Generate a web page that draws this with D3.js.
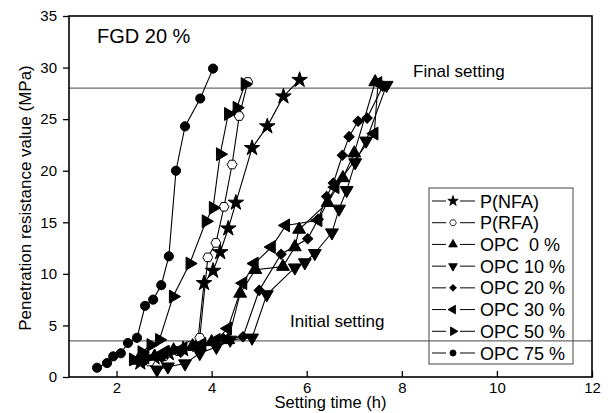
<!doctype html>
<html>
<head>
<meta charset="utf-8">
<script src="https://d3js.org/d3.v7.min.js"></script>
<style>
  body { margin: 0; background: #fff; }
  text { font-family: "Liberation Sans", Arial, sans-serif; fill: #000; }
</style>
</head>
<body>
<script>

// series names in legend order
var names = ["P(NFA)", "P(RFA)", "OPC\u00a0\u00a00 %", "OPC 10 %", "OPC 20 %", "OPC 30 %", "OPC 50 %", "OPC 75 %"];

// [time (h), resistance (MPa)]
var pNFA = [[2.5,1.4],[2.8,1.9],[3.1,2.3],[3.4,2.7],[3.7,3.1],[3.84,9.1],[4.03,10.3],[4.18,12.1],[4.35,14.4],[4.51,16.9],[4.85,22.2],[5.17,24.3],[5.51,27.2],[5.85,28.8]];
var pRFA = [[2.7,1.5],[3.0,2.0],[3.3,2.5],[3.55,3.0],[3.75,3.8],[3.92,11.6],[4.09,13.0],[4.26,16.5],[4.43,20.6],[4.58,25.3],[4.76,28.6]];
var opc0 = [[2.45,1.6],[2.8,2.0],[3.2,2.6],[3.6,3.0],[4.0,3.4],[4.35,3.6],[4.6,8.1],[4.92,10.4],[5.5,10.7],[5.75,12.6],[5.84,14.3],[6.44,16.9],[6.76,19.3],[7.0,21.7],[7.44,28.6]];
var opc10 = [[2.85,0.7],[3.08,1.0],[3.44,1.3],[3.75,2.3],[4.1,2.9],[4.39,3.6],[4.85,3.8],[5.16,8.0],[5.75,10.6],[5.96,11.1],[6.17,12.0],[6.53,14.0],[6.68,16.3],[6.84,18.1],[7.02,20.8],[7.25,22.9],[7.68,28.3]];
var opc20 = [[2.55,1.4],[2.95,1.9],[3.35,2.4],[3.75,2.9],[4.25,3.7],[4.66,3.9],[5.0,8.4],[5.46,11.9],[6.02,13.4],[6.24,15.3],[6.42,17.5],[6.56,18.8],[6.75,21.5],[6.89,23.3],[7.08,24.8],[7.27,25.1],[7.6,28.2]];
var opc30 = [[2.6,1.9],[3.0,2.4],[3.4,2.8],[3.8,3.2],[4.1,3.6],[4.34,4.7],[4.66,9.1],[4.9,11.0],[5.26,12.6],[5.56,14.7],[6.24,15.2],[6.6,18.4],[7.42,23.6],[7.5,28.5]];
var opc50 = [[2.35,1.7],[2.53,2.4],[2.72,3.1],[2.9,3.6],[3.19,7.8],[3.54,11.0],[3.88,15.1],[4.03,16.4],[4.18,21.6],[4.35,25.5],[4.53,26.1],[4.7,28.4]];
var opc75 = [[1.59,0.9],[1.8,1.35],[1.93,2.0],[2.09,2.3],[2.24,3.3],[2.43,3.8],[2.6,6.9],[2.77,7.5],[2.94,8.9],[3.1,11.7],[3.25,20.0],[3.44,24.3],[3.76,27.0],[4.03,29.9]];

var series = [pNFA, pRFA, opc0, opc10, opc20, opc30, opc50, opc75];

var xTicks = [2, 4, 6, 8, 10, 12];
var yTicks = [0, 5, 10, 15, 20, 25, 30, 35];
var finalSetting = 28;
var initialSetting = 3.5;

var width = 610, height = 413;
var plotLeft = 69, plotRight = 592, plotTop = 16, plotBottom = 377;

var svg = d3.select("body").append("svg")
    .attr("width", width)
    .attr("height", height);

var x = d3.scaleLinear().domain([1, 12]).range([plotLeft, plotRight]);
var y = d3.scaleLinear().domain([0, 35]).range([plotBottom, plotTop]);

// hexagon symbol for the open marker
var symbolHexagon = {
  draw: function(context, size) {
    var r = Math.sqrt(size / 2.598);
    for (var i = 0; i < 6; i++) {
      var a = Math.PI / 3 * i;
      if (i === 0) context.moveTo(r * Math.cos(a), r * Math.sin(a));
      else context.lineTo(r * Math.cos(a), r * Math.sin(a));
    }
    context.closePath();
  }
};

var markers = [
  {type: d3.symbolStar, size: 75, rot: 0, fill: "#000"},
  {type: symbolHexagon, size: 64, rot: 0, fill: "#fff"},
  {type: d3.symbolTriangle, size: 72, rot: 0, fill: "#000"},
  {type: d3.symbolTriangle, size: 72, rot: 180, fill: "#000"},
  {type: d3.symbolSquare, size: 52, rot: 45, fill: "#000"},
  {type: d3.symbolTriangle, size: 72, rot: -90, fill: "#000"},
  {type: d3.symbolTriangle, size: 72, rot: 90, fill: "#000"},
  {type: d3.symbolCircle, size: 66, rot: 0, fill: "#000"}
];

// reference lines
svg.selectAll(".ref")
  .data([finalSetting, initialSetting])
  .enter().append("line")
  .attr("x1", plotLeft).attr("x2", plotRight)
  .attr("y1", function(d) { return y(d); })
  .attr("y2", function(d) { return y(d); })
  .attr("stroke", "#6a6a6a")
  .attr("stroke-width", 1.2);

// axes
var xAxis = svg.append("g")
  .attr("transform", "translate(0," + plotBottom + ")")
  .call(d3.axisBottom(x).tickValues(xTicks).tickSizeInner(-6).tickSizeOuter(0).tickPadding(5));
var yAxis = svg.append("g")
  .attr("transform", "translate(" + plotLeft + ",0)")
  .call(d3.axisLeft(y).tickValues(yTicks).tickSizeInner(6).tickSizeOuter(0).tickPadding(6));

[xAxis, yAxis].forEach(function(a) {
  a.select(".domain").remove();
  a.selectAll("line").attr("stroke", "#000").attr("stroke-width", 1.3);
  a.selectAll("text").style("font-size", "15px").attr("fill", "#000");
});

svg.append("rect")
  .attr("x", plotLeft).attr("y", plotTop)
  .attr("width", plotRight - plotLeft).attr("height", plotBottom - plotTop)
  .attr("fill", "none")
  .attr("stroke", "#000")
  .attr("stroke-width", 1.6);

// data
var line = d3.line()
  .x(function(d) { return x(d[0]); })
  .y(function(d) { return y(d[1]); });

series.forEach(function(s, i) {
  var m = markers[i];
  svg.append("path")
    .attr("d", line(s))
    .attr("fill", "none")
    .attr("stroke", "#000")
    .attr("stroke-width", 1.1);
  svg.selectAll(".m" + i)
    .data(s)
    .enter().append("path")
    .attr("class", "m" + i)
    .attr("d", d3.symbol().type(m.type).size(m.size))
    .attr("transform", function(d) { return "translate(" + x(d[0]) + "," + y(d[1]) + ") rotate(" + m.rot + ")"; })
    .attr("fill", m.fill)
    .attr("stroke", "#000")
    .attr("stroke-width", 1);
});

// labels
svg.append("text")
  .attr("x", 97).attr("y", 43)
  .style("font-size", "20px")
  .text("FGD 20 %");

svg.append("text")
  .attr("x", 413).attr("y", 77)
  .style("font-size", "17px")
  .text("Final setting");

svg.append("text")
  .attr("x", 290).attr("y", 327)
  .style("font-size", "17px")
  .text("Initial setting");

svg.append("text")
  .attr("x", (plotLeft + plotRight) / 2).attr("y", 408)
  .attr("text-anchor", "middle")
  .style("font-size", "16.5px")
  .text("Setting time (h)");

svg.append("text")
  .attr("transform", "translate(31," + 198 + ") rotate(-90)")
  .attr("text-anchor", "middle")
  .style("font-size", "17px")
  .text("Penetration resistance value (MPa)");

// legend
var legend = svg.append("g");
legend.append("rect")
  .attr("x", 429).attr("y", 188)
  .attr("width", 144).attr("height", 176)
  .attr("fill", "none")
  .attr("stroke", "#444")
  .attr("stroke-width", 1);

var rowY = d3.scaleLinear().domain([0, 7]).range([201, 353]);

names.forEach(function(n, i) {
  var m = markers[i];
  var cy = rowY(i);
  legend.append("line")
    .attr("x1", 432).attr("x2", 475)
    .attr("y1", cy).attr("y2", cy)
    .attr("stroke", "#000").attr("stroke-width", 1);
  legend.append("rect")
    .attr("x", 446).attr("y", cy - 4).attr("width", 14).attr("height", 8)
    .attr("fill", "#fff");
  legend.append("path")
    .attr("d", d3.symbol().type(m.type).size(m.size * 0.45))
    .attr("transform", "translate(453," + cy + ") rotate(" + m.rot + ")")
    .attr("fill", m.fill)
    .attr("stroke", "#000")
    .attr("stroke-width", 0.8);
  legend.append("text")
    .attr("x", 480).attr("y", cy + 6.5)
    .style("font-size", "18px")
    .text(n);
});
</script>
</body>
</html>
